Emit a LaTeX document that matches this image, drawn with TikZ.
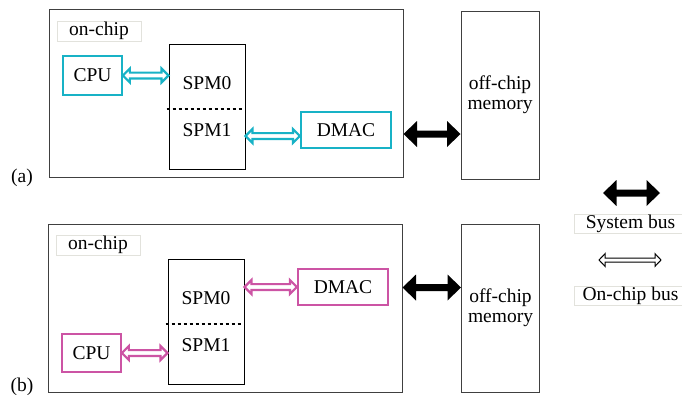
\documentclass[tikz,border=0pt]{standalone}
\usepackage{fontspec}
\setmainfont{Liberation Serif}
\usetikzlibrary{calc,positioning}
\definecolor{busA}{RGB}{24,178,198}
\definecolor{busB}{RGB}{204,84,164}
\definecolor{frame}{RGB}{64,64,64}
\definecolor{tagline}{RGB}{226,226,220}
\begin{document}
\begin{tikzpicture}[
x=1pt, y=-1pt,
every node/.style={font=\fontsize{19.5}{20}\selectfont, inner sep=0pt},
chip/.style={draw=frame, line width=1pt, minimum width=354pt, minimum height=168pt},
tag/.style={draw=tagline, line width=0.8pt, minimum width=84pt, minimum height=20pt},
legend/.style={draw=tagline, line width=0.8pt, minimum width=113pt, minimum height=19pt},
unit/.style={draw=#1, line width=2.2pt},
spm/.style={draw=black, line width=1pt, minimum width=76pt, minimum height=125pt},
mem/.style={draw=frame, line width=1pt, minimum width=78pt, minimum height=168pt, align=center},
split/.style={dash pattern=on 3.5pt off 2.5pt, line width=2pt},
% arrow body: head length, half shaft, half head
bus/.style n args={3}{to path={let \p1=(\tikztostart), \p2=(\tikztotarget) in
  (\x1,\y1) -- (\x1+#1,\y1+#3) -- (\x1+#1,\y1+#2) -- (\x2-#1,\y1+#2) -- (\x2-#1,\y1+#3)
  -- (\x2,\y1) -- (\x2-#1,\y1-#3) -- (\x2-#1,\y1-#2) -- (\x1+#1,\y1-#2) -- (\x1+#1,\y1-#3) -- cycle}},
sysbus/.style={fill=black, bus={13.5pt}{3.5pt}{13pt}},
onbus/.style={draw=#1, fill=white, line width=2.2pt, bus={7pt}{2.9pt}{7pt}},
keybus/.style={draw=black, fill=white, line width=1pt, bus={6pt}{2pt}{6.3pt}}
]
\useasboundingbox (0,0) rectangle (682,394);
\clip (0,0) rectangle (682,394);

% (a) top system
\node[chip] (chipA) at (226,93) {};
\node[tag] (tagA) at (99,31) {on-chip};
\node[unit=busA, minimum width=58.5pt, minimum height=39pt] (cpuA) at (92.5,75.5) {CPU};
\node[spm] (spmA) at (207,106.5) {};
\node (spm0A) at ([yshift=23.5pt]spmA.center) {SPM0};
\node (spm1A) at ([yshift=-23.5pt]spmA.center) {SPM1};
\draw[split] ([xshift=-2pt,yshift=-2pt]spmA.west) -- ([xshift=-2pt,yshift=-2pt]spmA.east);
\node[unit=busA, minimum width=90pt, minimum height=36pt] (dmacA) at (346,130) {DMAC};
\node[mem] (memA) at (500,95) {off-chip\\memory};
\node[anchor=base] (labA) at (22,182) {(a)};
\draw[onbus=busA] (cpuA.east) to (spmA.west |- cpuA.east);
\draw[onbus=busA] (spmA.east |- 0,136) to (dmacA.west |- 0,136);
\fill[sysbus] (chipA.east |- 0,134) to (memA.west |- 0,134);

% (b) bottom system
\node[chip] (chipB) at (225,308) {};
\node[tag] (tagB) at (98,245) {on-chip};
\node[spm] (spmB) at (206,321.5) {};
\node (spm0B) at ([yshift=23.5pt]spmB.center) {SPM0};
\node (spm1B) at ([yshift=-23.5pt]spmB.center) {SPM1};
\draw[split] ([xshift=-2pt,yshift=-2pt]spmB.west) -- ([xshift=-2pt,yshift=-2pt]spmB.east);
\node[unit=busB, minimum width=90pt, minimum height=36pt] (dmacB) at (343,287) {DMAC};
\node[unit=busB, minimum width=58.5pt, minimum height=38pt] (cpuB) at (91.5,353) {CPU};
\node[mem] (memB) at (500.5,308) {off-chip\\memory};
\node[anchor=base] (labB) at (22,391) {(b)};
\draw[onbus=busB] (cpuB.east) to (spmB.west |- cpuB.east);
\draw[onbus=busB] (spmB.east |- dmacB.west) to (dmacB.west);
\fill[sysbus] (chipB.east |- 0,287.5) to (memB.west |- 0,287.5);

% key
\coordinate (sysL) at (603,193);
\coordinate (sysR) at (660,193);
\fill[sysbus] (sysL) to (sysR);
\node[legend] (sysT) at (630.5,223.5) {System bus};
\coordinate (onL) at (599,260);
\coordinate (onR) at (661,260);
\draw[keybus] (onL) to (onR);
\node[legend] (onT) at (630.5,295.5) {On-chip bus};
\end{tikzpicture}
\end{document}
